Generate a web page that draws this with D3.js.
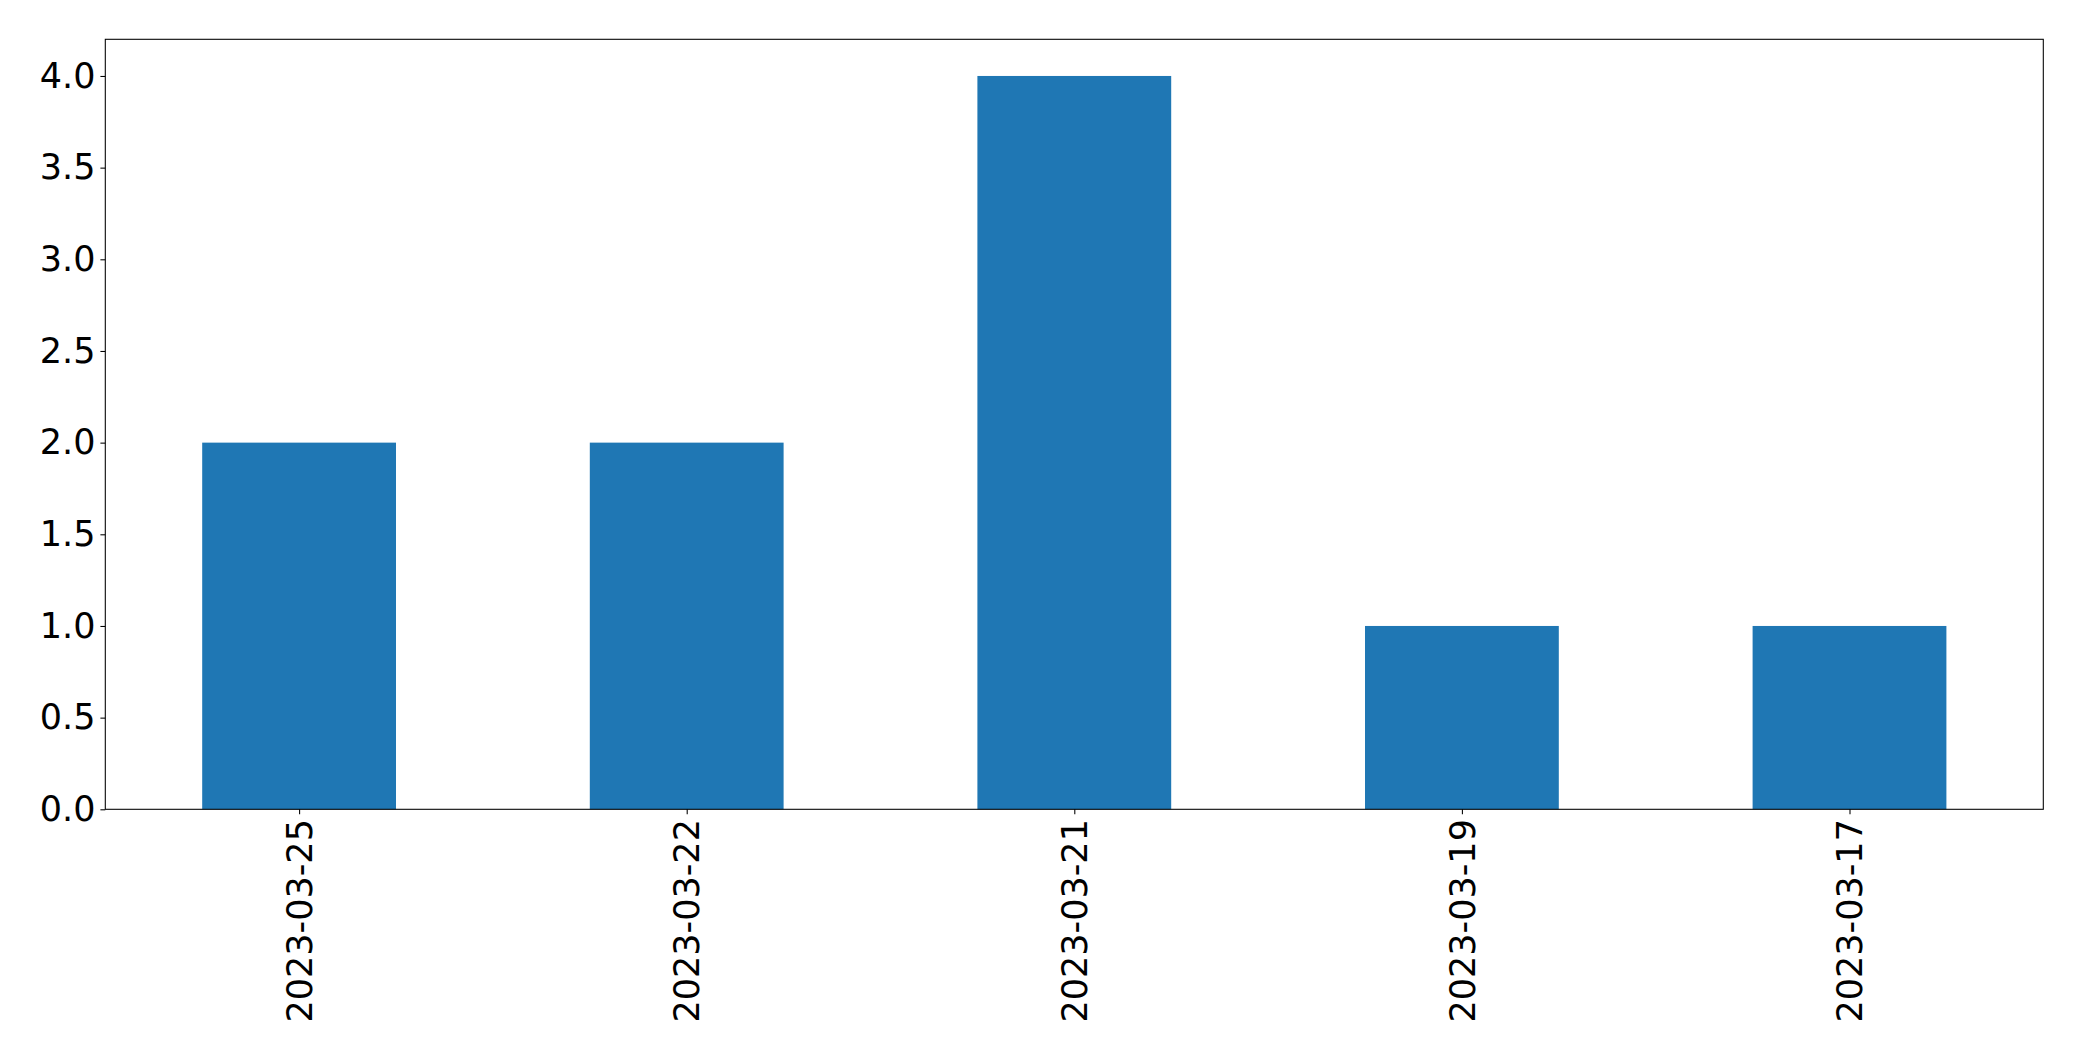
<!DOCTYPE html>
<html><head><meta charset="utf-8">
<script src="https://cdn.jsdelivr.net/npm/d3@7"></script>
<style>html,body{margin:0;padding:0;background:#fff;}svg{display:block;}</style>
</head><body>
<script>
const categories = ["2023-03-25","2023-03-22","2023-03-21","2023-03-19","2023-03-17"];
const values = [2, 2, 4, 1, 1];
const yTicks = [0, 0.5, 1.0, 1.5, 2.0, 2.5, 3.0, 3.5, 4.0];

const W = 2082, H = 1061;
const m = {left: 105.3, top: 39.3, right: 2043.3, bottom: 809.3};
const svg = d3.select("body").append("svg").attr("width", W).attr("height", H);

const x = d3.scaleLinear().domain([-0.5, categories.length - 0.5]).range([m.left, m.right]);
const y = d3.scaleLinear().domain([0, 4.2]).range([m.bottom, m.top]);
const font = "DejaVu Sans, sans-serif";
const fs = 35;

svg.append("g").selectAll("rect").data(values).join("rect")
  .attr("x", (d,i) => x(i - 0.25)).attr("width", (d,i) => x(i + 0.25) - x(i - 0.25))
  .attr("y", d => y(d)).attr("height", d => y(0) - y(d))
  .attr("fill", "#1f77b4");

const yAxis = d3.axisLeft(y).tickValues(yTicks).tickFormat(d3.format(".1f")).tickSize(4.9).tickPadding(4.9);
const gy = svg.append("g").attr("transform", `translate(${m.left},0)`).call(yAxis);
gy.select(".domain").remove();
gy.selectAll("line").attr("stroke", "#000").attr("stroke-width", 1.07);
gy.selectAll("text").attr("font-family", font).attr("font-size", fs).attr("fill", "#000");

const xAxis = d3.axisBottom(x).tickValues(d3.range(categories.length)).tickFormat(i => categories[i]).tickSize(4.9).tickPadding(4.9);
const gx = svg.append("g").attr("transform", `translate(0,${m.bottom})`).call(xAxis);
gx.select(".domain").remove();
gx.selectAll("line").attr("stroke", "#000").attr("stroke-width", 1.07);
gx.selectAll("text").attr("font-family", font).attr("font-size", fs).attr("fill", "#000")
  .attr("transform", "rotate(-90)").attr("text-anchor", "end").attr("dy", "0.35em")
  .attr("x", -9.8).attr("y", 0);

svg.append("rect").attr("x", m.left).attr("y", m.top)
  .attr("width", m.right - m.left).attr("height", m.bottom - m.top)
  .attr("fill", "none").attr("stroke", "#000").attr("stroke-width", 1.07);
</script>
</body></html>
